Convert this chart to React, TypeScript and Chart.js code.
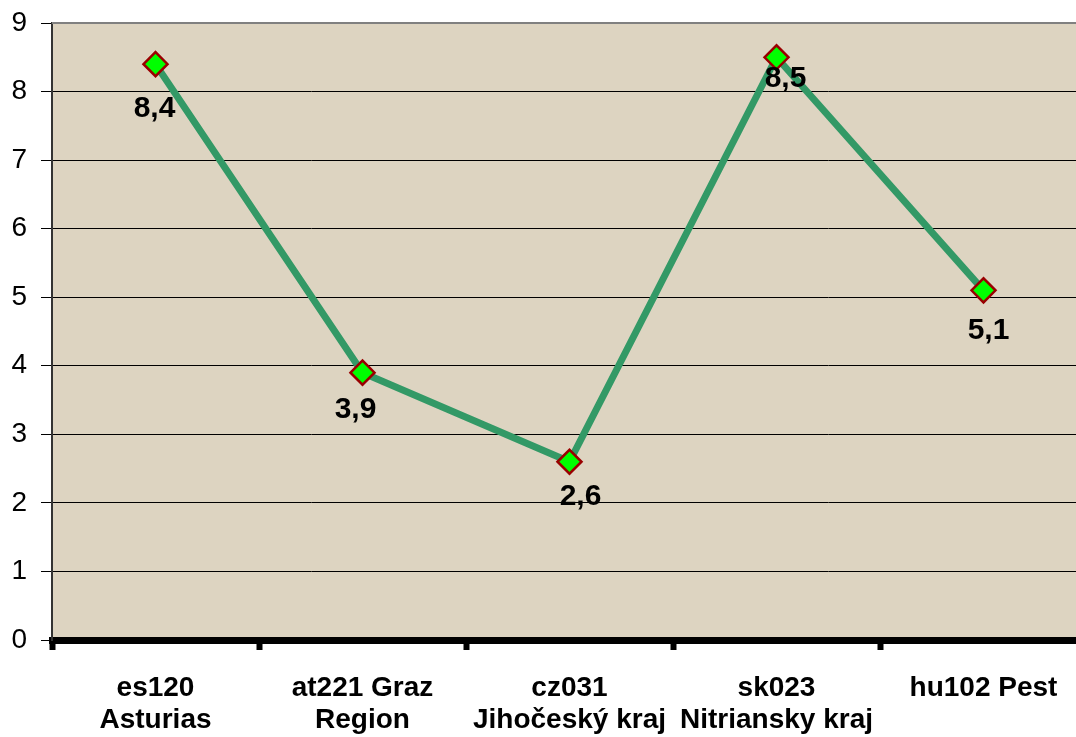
import React, { useEffect, useRef } from "react";
import { Chart, registerables } from "chart.js";

Chart.register(...registerables);

const categories: string[][] = [
  ["es120", "Asturias"],
  ["at221 Graz", "Region"],
  ["cz031", "Jihočeský kraj"],
  ["sk023", "Nitriansky kraj"],
  ["hu102 Pest"],
];
const values: number[] = [8.4, 3.9, 2.6, 8.5, 5.1];
const valueLabels: string[] = ["8,4", "3,9", "2,6", "8,5", "5,1"];
const yTicks: number[] = [0, 1, 2, 3, 4, 5, 6, 7, 8, 9];

// label offsets below the points (style)
const labelDy: number[] = [45, 37, 35, 21, 40];
const labelDx: number[] = [-1, -7, 11, 9, 5];

const FONT = "'Liberation Sans', Arial, sans-serif";

const bgPlugin = {
  id: "bgPlugin",
  beforeDraw(chart: any) {
    const { ctx, chartArea } = chart;
    ctx.save();
    ctx.fillStyle = "#ddd4c1";
    ctx.fillRect(chartArea.left, chartArea.top, chartArea.right - chartArea.left, chartArea.bottom - chartArea.top);
    ctx.restore();
  },
  afterDraw(chart: any) {
    const { ctx, chartArea } = chart;
    ctx.save();
    ctx.strokeStyle = "#808080";
    ctx.lineWidth = 2;
    ctx.beginPath();
    ctx.moveTo(chartArea.left, chartArea.top);
    ctx.lineTo(chartArea.right, chartArea.top);
    ctx.stroke();
    ctx.restore();
  },
};

const labelPlugin = {
  id: "labelPlugin",
  afterDatasetsDraw(chart: any) {
    const { ctx } = chart;
    const meta = chart.getDatasetMeta(0);
    ctx.save();
    ctx.font = `bold 30px ${FONT}`;
    ctx.fillStyle = "#000";
    ctx.textAlign = "center";
    ctx.textBaseline = "middle";
    meta.data.forEach((pt: any, i: number) => {
      ctx.fillText(valueLabels[i], pt.x + labelDx[i], pt.y + labelDy[i]);
    });
    ctx.restore();
  },
};

export default function App() {
  const ref = useRef<HTMLCanvasElement | null>(null);
  useEffect(() => {
    if (!ref.current) return;
    const chart = new Chart(ref.current, {
      type: "line",
      data: {
        labels: categories,
        datasets: [
          {
            data: values,
            borderColor: "#339966",
            borderWidth: 7,
            pointStyle: "rectRot",
            pointRadius: 12,
            pointBackgroundColor: "#00ff00",
            pointBorderColor: "#990000",
            pointBorderWidth: 2.5,
            tension: 0,
          },
        ],
      },
      options: {
        animation: false,
        responsive: false,
        maintainAspectRatio: false,
        devicePixelRatio: 1,
        layout: { autoPadding: false, padding: { left: 0, right: 3, top: 23, bottom: 0 } },
        plugins: { legend: { display: false }, tooltip: { enabled: false } },
        scales: {
          x: {
            offset: true,
            grid: {
              offset: true,
              drawOnChartArea: false,
              drawTicks: true,
              tickLength: 10,
              tickWidth: 6,
              tickColor: "#000",
            },
            border: { display: true, color: "#000", width: 7 },
            ticks: {
              color: "#000",
              font: { family: FONT, size: 28, weight: "bold", lineHeight: "32px" },
              padding: 22,
              maxRotation: 0,
              autoSkip: false,
            },
            afterFit(scale: any) {
              scale.height = 97;
              scale.paddingLeft = 0;
              scale.paddingRight = 0;
            },
          },
          y: {
            min: 0,
            max: 9,
            afterBuildTicks(scale: any) {
              scale.ticks = yTicks.map((v) => ({ value: v }));
            },
            grid: {
              color: (c: any) => (c.tick && c.tick.value === 9 ? "rgba(0,0,0,0)" : "#000"),
              lineWidth: 1,
              drawTicks: true,
              tickLength: 11,
              tickColor: "#000",
            },
            border: { display: true, color: "#333", width: 2 },
            ticks: {
              color: "#000",
              font: { family: FONT, size: 28 },
              padding: 14,
            },
            afterFit(scale: any) {
              scale.width = 52;
              scale.paddingTop = 0;
              scale.paddingBottom = 0;
            },
          },
        },
      },
      plugins: [bgPlugin, labelPlugin],
    });
    return () => chart.destroy();
  }, []);

  return (
    <div style={{ position: "fixed", left: 0, top: 0, width: 1076, height: 737, overflow: "hidden", background: "#fff" }}>
      <canvas ref={ref} width={1090} height={737} style={{ display: "block", width: 1090, height: 737 }} />
    </div>
  );
}
